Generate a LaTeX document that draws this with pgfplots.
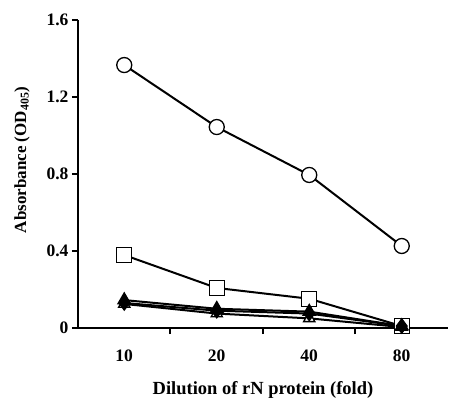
\documentclass[border=0pt]{standalone}
\usepackage{fontspec}
\setmainfont{Liberation Serif}
\usepackage{pgfplots}
\pgfplotsset{compat=1.18}
\begin{document}
\begin{tikzpicture}[x=1pt,y=1pt]
\begin{axis}[
  at={(0,0)}, anchor=origin,
  scale only axis, width=370pt, height=308pt,
  xmin=0.5, xmax=4.5, ymin=0, ymax=1.6,
  axis x line*=bottom, axis y line*=left,
  axis line style={-, line width=2pt},
  xtick={1.5,2.5,3.5}, xticklabels={},
  extra x ticks={1,2,3,4},
  extra x tick labels={\textbf{10},\textbf{20},\textbf{40},\textbf{80}},
  extra x tick style={major tick length=0pt},
  ytick={0,0.4,0.8,1.2,1.6},
  yticklabels={\textbf{0},\textbf{0.4},\textbf{0.8},\textbf{1.2},\textbf{1.6}},
  tick align=outside, major tick length=6pt,
  tick style={line width=2pt, black},
  ticklabel style={font=\bfseries\fontsize{17.5}{20}\selectfont},
  xticklabel style={yshift=-18pt},
  xlabel style={font=\bfseries\fontsize{18.5}{22}\selectfont, yshift=-7pt},
  ylabel style={font=\bfseries\fontsize{17}{20}\selectfont, yshift=10pt, xshift=14pt},
  xlabel={Dilution of rN protein (fold)},
  ylabel={Absorbance (OD\textsubscript{405})},
  clip=false,
  every axis plot/.append style={line width=2pt, black},
]
\addplot[mark=*, mark size=7.5pt, mark options={fill=white, line width=1.3pt}] coordinates {(1,1.366) (2,1.044) (3,0.795) (4,0.426)};
\addplot[mark=square*, mark size=7.5pt, mark options={fill=white, line width=1.3pt}] coordinates {(1,0.379) (2,0.208) (3,0.152) (4,0.01)};
\addplot[mark=triangle*, mark size=6.5pt, mark options={fill=white, line width=1.3pt}] coordinates {(1,0.125) (2,0.075) (3,0.05) (4,0.005)};
\addplot[mark=triangle*, mark size=6.5pt, mark options={fill=black}] coordinates {(1,0.145) (2,0.10) (3,0.085) (4,0.01)};
\addplot[mark=diamond*, mark size=6.5pt, mark options={fill=black}] coordinates {(1,0.13) (2,0.09) (3,0.075) (4,0.01)};
\end{axis}
\pgfresetboundingbox
\path (-78,-69) rectangle (372,328);
\end{tikzpicture}
\end{document}
